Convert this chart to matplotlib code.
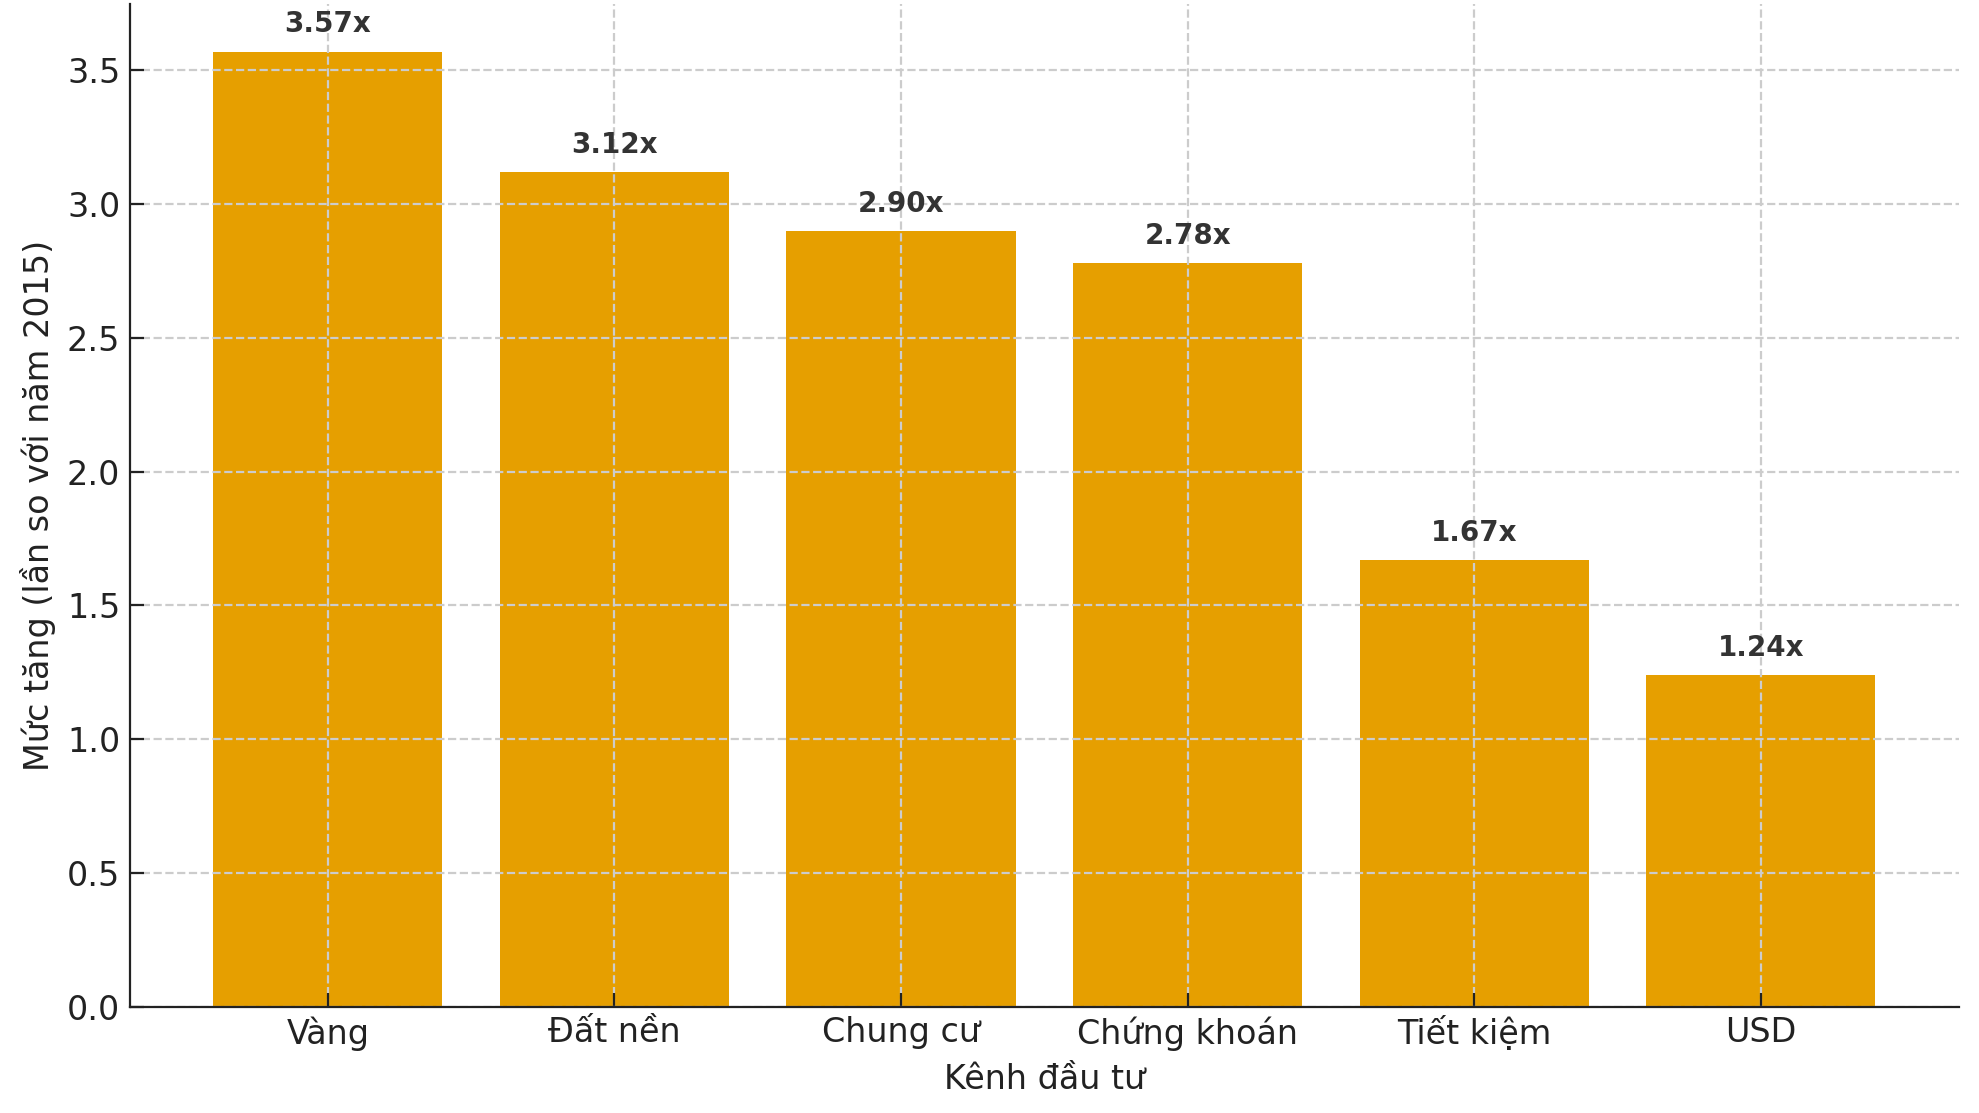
import matplotlib
matplotlib.use('Agg')
import matplotlib.pyplot as plt

channels = ['Vàng', 'Đất nền', 'Chung cư', 'Chứng khoán', 'Tiết kiệm', 'USD']
growth = [3.57, 3.12, 2.90, 2.78, 1.67, 1.24]

plt.rcParams['font.family'] = ['DejaVu Sans']
plt.rcParams['font.size'] = 12

fig = plt.figure(figsize=(9.895, 5.565), dpi=200)
ax = fig.add_axes([0.0657, 0.0955, 0.924, 0.901])

bars = ax.bar(channels, growth, color='#E69F00', width=0.8, zorder=2)
for b, v in zip(bars, growth):
    ax.text(b.get_x() + b.get_width() / 2, v + 0.05, f'{v:.2f}x',
            ha='center', va='bottom', fontsize=10, fontweight='bold', color='#333333', zorder=3)

ax.set_ylim(0, max(growth) * 1.05)
ax.set_xlabel('Kênh đầu tư', fontsize=12, color='#222222')
ax.set_ylabel('Mức tăng (lần so với năm 2015)', fontsize=12, color='#222222')
ax.grid(True, linestyle='--', color='#cccccc', linewidth=0.8)
ax.set_axisbelow(False)
for g in ax.get_xgridlines() + ax.get_ygridlines():
    g.set_zorder(2.5)
ax.spines['top'].set_visible(False)
ax.spines['right'].set_visible(False)
for s in ('left', 'bottom'):
    ax.spines[s].set_color('#222222')
    ax.spines[s].set_zorder(4)
ax.tick_params(direction='in', length=5, colors='#222222', labelsize=12)

fig.savefig('out.png', dpi=200)
